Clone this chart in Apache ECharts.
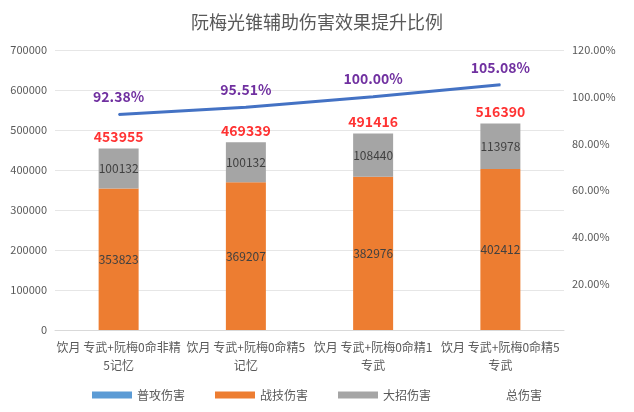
<!DOCTYPE html>
<html><head><meta charset="utf-8">
<script src="https://cdn.jsdelivr.net/npm/echarts@6/dist/echarts.min.js"></script>
<style>html,body{margin:0;padding:0;background:#fff}#c{width:634px;height:412px}</style>
</head><body><div id="c"></div>
<script>
const categories = ['饮月 专武+阮梅0命非精\n5记忆','饮月 专武+阮梅0命精5\n记忆','饮月 专武+阮梅0命精1\n专武','饮月 专武+阮梅0命精5\n专武'];
const normalAtk = [0,0,0,0];
const skillDmg = [353823,369207,382976,402412];
const ultDmg = [100132,100132,108440,113978];
const totalDmg = [453955,469339,491416,516390];
const ratio = [92.38,95.51,100.00,105.08];

const chart = echarts.init(document.getElementById('c'));
const font = '"Noto Sans CJK SC", sans-serif';
chart.setOption({
  textStyle:{fontFamily:font},
  title:{text:'阮梅光锥辅助伤害效果提升比例',left:'center',top:8,textStyle:{fontSize:18,fontWeight:'normal',color:'#595959',fontFamily:font}},
  legend:{bottom:6,itemWidth:40,itemHeight:7,itemGap:30,textStyle:{color:'#595959',fontSize:12},
    data:[{name:'普攻伤害',icon:'rect'},{name:'战技伤害',icon:'rect'},{name:'大招伤害',icon:'rect'},{name:'总伤害',icon:'none'}]},
  grid:{left:55,right:70,top:50,bottom:82},
  xAxis:{type:'category',data:categories,axisTick:{show:false},axisLine:{lineStyle:{color:'#d9d9d9'}},
    axisLabel:{color:'#595959',fontSize:12,interval:0,lineHeight:18}},
  yAxis:[
    {type:'value',min:0,max:700000,interval:100000,axisLabel:{color:'#595959',fontSize:11,formatter:v=>String(v)},splitLine:{lineStyle:{color:'#e6e6e6'}}},
    {type:'value',min:0,max:120,interval:20,splitLine:{show:false},
      axisLabel:{color:'#595959',fontSize:11,formatter:v=>v===0?'':v.toFixed(2)+'%'}}
  ],
  series:[
    {name:'普攻伤害',type:'bar',stack:'a',data:normalAtk,itemStyle:{color:'#5b9bd5'},barWidth:40},
    {name:'战技伤害',type:'bar',stack:'a',data:skillDmg,itemStyle:{color:'#ed7d31'},barWidth:40,
      label:{show:true,position:'inside',color:'#404040',fontSize:12}},
    {name:'大招伤害',type:'bar',stack:'a',data:ultDmg,itemStyle:{color:'#a5a5a5'},barWidth:40,
      label:{show:true,position:'inside',color:'#404040',fontSize:12}},
    {name:'总伤害',type:'scatter',data:totalDmg,symbolSize:1,itemStyle:{color:'transparent'},
      label:{show:true,position:'top',distance:4,color:'#ff0000',fontWeight:'bold',fontSize:14}},
    {name:'提升比例',type:'line',yAxisIndex:1,data:ratio,showSymbol:true,symbol:'circle',symbolSize:1,
      itemStyle:{color:'#4472c4'},lineStyle:{color:'#4472c4',width:3},
      label:{show:true,position:'top',distance:10,color:'#7030a0',fontWeight:'bold',fontSize:14,formatter:p=>p.value.toFixed(2)+'%'}}
  ]
});
</script></body></html>
